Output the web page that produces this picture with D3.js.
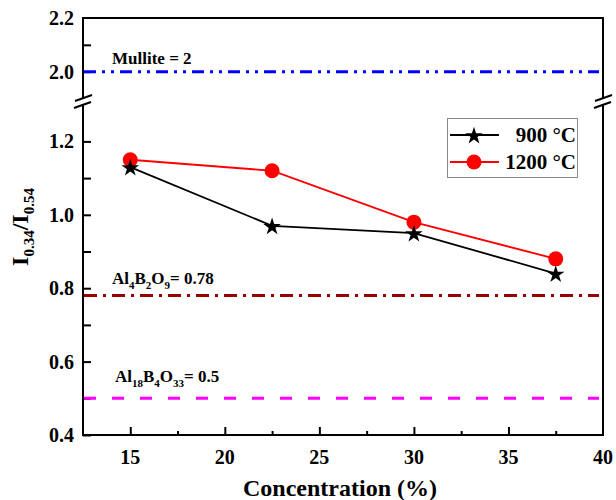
<!DOCTYPE html>
<html lang="en">
<head>
    <meta charset="UTF-8">
    <title>broken-axis-line</title>
    <script src="https://cdn.jsdelivr.net/npm/d3@7/dist/d3.min.js"></script>
    <style>
        body{
            margin: 0;
            background: #fff;
        }
        svg text{
            font-family: "Liberation Serif", "Times New Roman", serif;
            font-weight: bold;
        }
    </style>
</head>
<body>
<svg class="chart"></svg>
<script>

    // data
    var concentration = [15, 22.5, 30, 37.5];
    var ratio900 = [1.13, 0.97, 0.95, 0.84];
    var ratio1200 = [1.15, 1.12, 0.98, 0.88];
    var seriesNames = ['900 \u00B0C', '1200 \u00B0C'];
    var xTicks = [15, 20, 25, 30, 35, 40];
    var yTicksLow = [0.4, 0.6, 0.8, 1.0, 1.2];
    var yTicksHigh = [2.0, 2.2];
    var refValues = [2, 0.78, 0.5];

    var width = 616;
    var height = 500;

    // plot box
    var box = {left: 83, right: 603, top: 18, bottom: 435};

    var svg = d3.select('.chart')
        .attr('width', width)
        .attr('height', height);

    // scales (broken y axis: two segments)
    var x = d3.scaleLinear().domain([12.5, 40]).range([box.left, box.right]);
    var yLow = d3.scaleLinear().domain([0.4, 1.3]).range([box.bottom, 104.7]);
    var yHigh = d3.scaleLinear().domain([1.9, 2.2]).range([98.5, box.top]);

    var breakY = 101.5;

    // frame
    var frame = svg.append('g').attr('stroke', '#000').attr('stroke-width', 2).attr('fill', 'none');
    frame.append('line').attr('x1', box.left).attr('x2', box.right).attr('y1', box.top).attr('y2', box.top);
    frame.append('line').attr('x1', box.left).attr('x2', box.right).attr('y1', box.bottom).attr('y2', box.bottom);
    [box.left, box.right].forEach(function (xx) {
        frame.append('line').attr('x1', xx).attr('x2', xx).attr('y1', box.top - 1).attr('y2', breakY - 3);
        frame.append('line').attr('x1', xx).attr('x2', xx).attr('y1', breakY + 3).attr('y2', box.bottom + 1);
        // break marks
        frame.append('line').attr('x1', xx - 8).attr('x2', xx + 9).attr('y1', breakY - 0.5).attr('y2', breakY - 6.5);
        frame.append('line').attr('x1', xx - 9).attr('x2', xx + 8).attr('y1', breakY + 6.5).attr('y2', breakY + 0.5);
    });

    // x axis ticks (inside)
    var xAxis = d3.axisTop(x)
        .tickValues(d3.range(15, 40, 2.5))
        .tickSize(8)
        .tickFormat('');
    var gx = svg.append('g')
        .attr('transform', 'translate(0,' + box.bottom + ')')
        .call(xAxis);
    gx.select('.domain').remove();
    gx.selectAll('.tick line')
        .attr('stroke', '#000')
        .attr('stroke-width', 2)
        .attr('y2', function (d) { return d % 5 === 0 ? -8 : -4; });

    svg.append('g').selectAll('text')
        .data(xTicks)
        .enter()
        .append('text')
        .attr('x', function (d) { return x(d); })
        .attr('y', 464)
        .attr('text-anchor', 'middle')
        .attr('font-size', 20)
        .text(function (d) { return d; });

    // y axis ticks (inside)
    function yTicks(scale, values) {
        var g = svg.append('g')
            .attr('transform', 'translate(' + box.left + ',0)')
            .call(d3.axisRight(scale).tickValues(values).tickSize(8).tickFormat(''));
        g.select('.domain').remove();
        g.selectAll('.tick line').attr('stroke', '#000').attr('stroke-width', 2);
    }
    yTicks(yLow, [0.4, 0.5, 0.6, 0.7, 0.8, 0.9, 1.0, 1.1, 1.2]);
    yTicks(yHigh, [2.0, 2.1]);

    function yLabels(scale, values) {
        svg.append('g').selectAll('text')
            .data(values)
            .enter()
            .append('text')
            .attr('x', 74)
            .attr('y', function (d) { return scale(d) + 7; })
            .attr('text-anchor', 'end')
            .attr('font-size', 20)
            .text(function (d) { return d.toFixed(1); });
    }
    yLabels(yLow, yTicksLow);
    yLabels(yHigh, yTicksHigh);

    // reference lines
    var refs = [
        {v: refValues[0], scale: yHigh, color: '#0000ff', dash: '12,6,3,6,3,6'},
        {v: refValues[1], scale: yLow, color: '#990000', dash: '13,6,3,6'},
        {v: refValues[2], scale: yLow, color: '#ff00ff', dash: '12,16'}
    ];
    svg.append('g').selectAll('line')
        .data(refs)
        .enter()
        .append('line')
        .attr('x1', box.left + 1)
        .attr('x2', box.right - 4)
        .attr('y1', function (d) { return d.scale(d.v); })
        .attr('y2', function (d) { return d.scale(d.v); })
        .attr('stroke', function (d) { return d.color; })
        .attr('stroke-width', 3)
        .attr('stroke-dasharray', function (d) { return d.dash; });

    // reference labels
    svg.append('text')
        .attr('x', 112)
        .attr('y', yHigh(refValues[0]) - 8)
        .attr('font-size', 17)
        .text('Mullite = ' + refValues[0]);

    function formula(xx, yy, parts, tail) {
        var t = svg.append('text').attr('x', xx).attr('y', yy).attr('font-size', 17);
        parts.forEach(function (p, i) {
            t.append('tspan').attr('dy', i === 0 ? 0 : -5).text(p[0]);
            t.append('tspan').attr('font-size', 11).attr('dy', 5).text(p[1]);
        });
        t.append('tspan').attr('dy', -5).text(tail);
    }
    formula(112, yLow(refValues[1]) - 12, [['Al', '4'], ['B', '2'], ['O', '9']], '= ' + refValues[1]);
    formula(115, yLow(refValues[2]) - 16, [['Al', '18'], ['B', '4'], ['O', '33']], '= ' + refValues[2]);

    // series
    var line = d3.line()
        .x(function (d) { return x(d[0]); })
        .y(function (d) { return yLow(d[1]); });

    var d900 = d3.zip(concentration, ratio900);
    var d1200 = d3.zip(concentration, ratio1200);

    var star = d3.symbol().type(d3.symbolStar).size(95);

    svg.append('path')
        .datum(d900)
        .attr('d', line)
        .attr('fill', 'none')
        .attr('stroke', '#000')
        .attr('stroke-width', 1.8);

    svg.append('path')
        .datum(d1200)
        .attr('d', line)
        .attr('fill', 'none')
        .attr('stroke', '#ff0000')
        .attr('stroke-width', 1.8);

    svg.append('g').selectAll('circle')
        .data(d1200)
        .enter()
        .append('circle')
        .attr('cx', function (d) { return x(d[0]); })
        .attr('cy', function (d) { return yLow(d[1]); })
        .attr('r', 7.5)
        .attr('fill', '#ff0000');

    svg.append('g').selectAll('path')
        .data(d900)
        .enter()
        .append('path')
        .attr('d', star)
        .attr('transform', function (d) { return 'translate(' + x(d[0]) + ',' + (yLow(d[1]) + 1) + ')'; })
        .attr('fill', '#000');

    // legend
    var lg = svg.append('g');
    lg.append('rect')
        .attr('x', 447.5).attr('y', 118.5)
        .attr('width', 130).attr('height', 59)
        .attr('fill', '#fff')
        .attr('stroke', '#888')
        .attr('stroke-width', 1);
    var rows = [
        {name: seriesNames[0], color: '#000', y: 135},
        {name: seriesNames[1], color: '#ff0000', y: 162}
    ];
    rows.forEach(function (r, i) {
        lg.append('line')
            .attr('x1', 450).attr('x2', 499)
            .attr('y1', r.y).attr('y2', r.y)
            .attr('stroke', r.color)
            .attr('stroke-width', 1.8);
        if (i === 0) {
            lg.append('path').attr('d', star).attr('transform', 'translate(474,' + (r.y + 1) + ')').attr('fill', '#000');
        } else {
            lg.append('circle').attr('cx', 474).attr('cy', r.y).attr('r', 7.5).attr('fill', '#ff0000');
        }
        lg.append('text')
            .attr('x', 576)
            .attr('y', r.y + 7)
            .attr('text-anchor', 'end')
            .attr('font-size', 21)
            .text(r.name);
    });

    // axis titles
    svg.append('text')
        .attr('x', (box.left + box.right) / 2 - 3)
        .attr('y', 496)
        .attr('text-anchor', 'middle')
        .attr('font-size', 24)
        .text('Concentration (%)');

    var yt = svg.append('text')
        .attr('transform', 'translate(28,227) rotate(-90)')
        .attr('text-anchor', 'middle')
        .attr('font-size', 24);
    yt.append('tspan').text('I');
    yt.append('tspan').attr('font-size', 15).attr('dy', 6).text('0.34');
    yt.append('tspan').attr('dy', -6).text('/I');
    yt.append('tspan').attr('font-size', 15).attr('dy', 6).text('0.54');

</script>
</body>
</html>
